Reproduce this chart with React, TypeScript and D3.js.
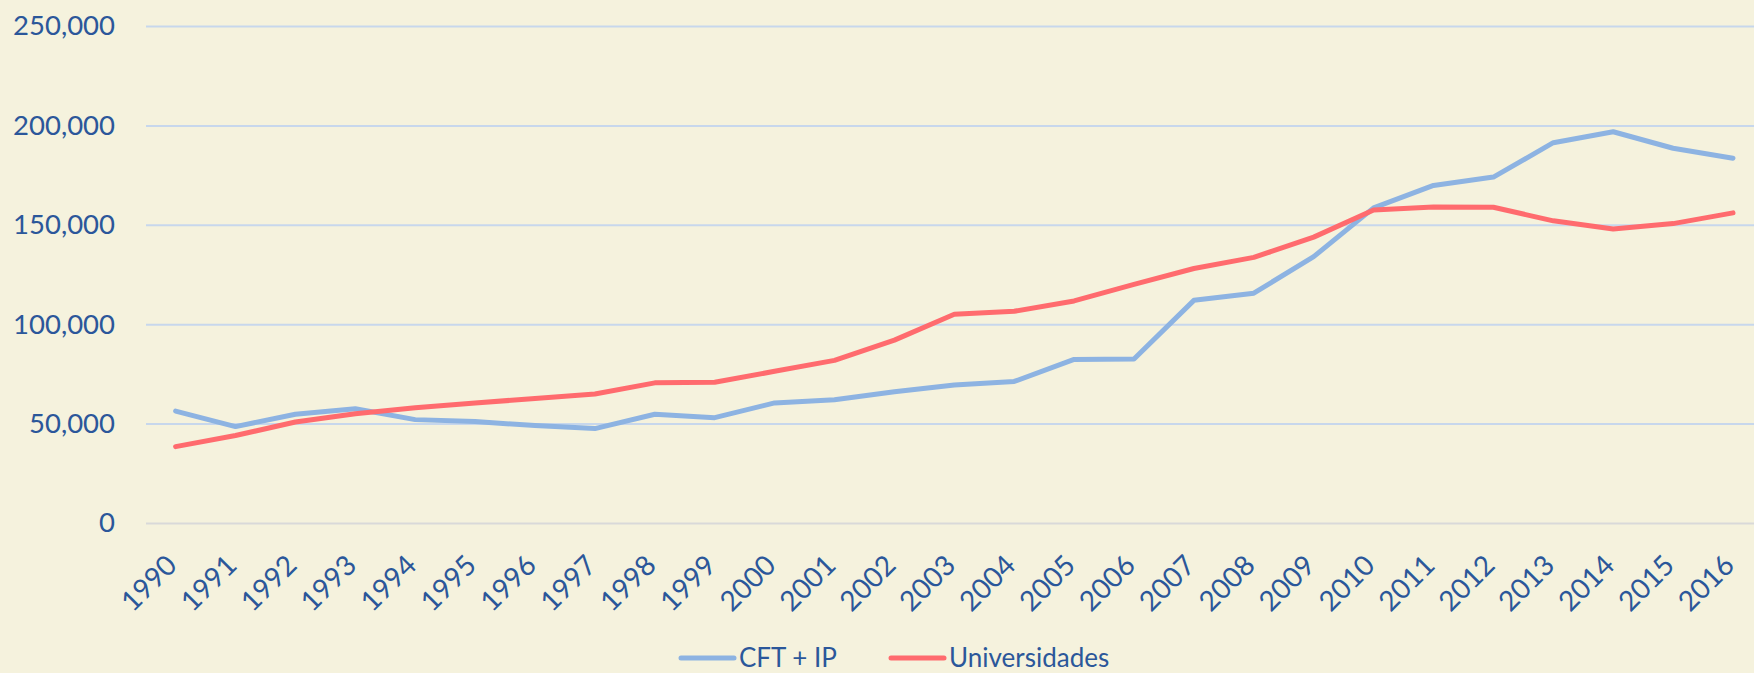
import { useEffect, useRef } from "react";
import * as d3 from "d3";

const years = [
  "1990", "1991", "1992", "1993", "1994", "1995", "1996", "1997", "1998",
  "1999", "2000", "2001", "2002", "2003", "2004", "2005", "2006", "2007",
  "2008", "2009", "2010", "2011", "2012", "2013", "2014", "2015", "2016",
];

// CFT + IP enrolment
const cftIp = [
  56300, 48500, 54700, 57500, 52000, 51000, 49000, 47500, 54700, 53000,
  60400, 62000, 66000, 69400, 71200, 82300, 82500, 112000, 115600, 134000,
  158500, 169800, 174000, 191300, 196800, 188500, 183500,
];

// Universidades enrolment
const universidades = [
  38400, 44000, 50800, 55000, 58000, 60400, 62600, 64900, 70500, 70800,
  76300, 81800, 92000, 105000, 106500, 111700, 120000, 128000, 133600, 143800,
  157400, 159000, 158800, 152000, 147900, 150600, 156000,
];

const yTicks = [0, 50000, 100000, 150000, 200000, 250000];

const seriesNames = ["CFT + IP", "Universidades"];

const W = 1754;
const H = 673;
const FONT = "Lato, 'Noto Sans', sans-serif";
const TEXT = "#2B579A";

const App = () => {
  const ref = useRef<SVGSVGElement>(null);

  useEffect(() => {
    document.body.style.margin = "0";
    const svg = d3.select(ref.current);
    svg.selectAll("*").remove();

    const left = 146;
    const right = W;
    const top = 26;
    const bottom = 523;

    svg.append("rect").attr("width", W).attr("height", H).attr("fill", "#F5F2DD");

    const x = d3.scalePoint().domain(years).range([175.6, 1733]);
    const y = d3.scaleLinear().domain([0, 250000]).range([bottom, top]);

    // gridlines + y labels
    const yAxis = d3
      .axisLeft(y)
      .tickValues(yTicks)
      .tickSize(-(right - left))
      .tickPadding(31)
      .tickFormat((d) => d3.format(",")(d as number));

    const yg = svg.append("g").attr("transform", `translate(${left},0)`).call(yAxis);
    yg.select(".domain").remove();
    yg.selectAll(".tick line")
      .attr("stroke", (d) => ((d as number) === 0 ? "#D9D9D9" : "#C7D7EC"))
      .attr("stroke-width", 2);
    yg.selectAll(".tick text")
      .attr("fill", TEXT)
      .style("font-family", FONT)
      .style("font-size", "27.5px");

    // x labels, rotated
    svg
      .append("g")
      .selectAll("text")
      .data(years)
      .enter()
      .append("text")
      .attr("transform", (d) => `translate(${(x(d) as number) + 3},567) rotate(-45)`)
      .attr("text-anchor", "end")
      .attr("fill", TEXT)
      .style("font-family", FONT)
      .style("font-size", "28px")
      .text((d) => d);

    const line = d3
      .line<number>()
      .x((d, i) => x(years[i]) as number)
      .y((d) => y(d));

    const colors = ["#8DB3E2", "#FF6B6E"];
    [cftIp, universidades].forEach((s, i) => {
      svg
        .append("path")
        .datum(s)
        .attr("d", line)
        .attr("fill", "none")
        .attr("stroke", colors[i])
        .attr("stroke-width", 5)
        .attr("stroke-linejoin", "round")
        .attr("stroke-linecap", "round");
    });

    // legend
    const legendX = [681, 891];
    const legendY = 658;
    seriesNames.forEach((name, i) => {
      const g = svg.append("g").attr("transform", `translate(${legendX[i]},${legendY})`);
      g.append("line")
        .attr("x1", 0)
        .attr("x2", 53)
        .attr("stroke", colors[i])
        .attr("stroke-width", 5)
        .attr("stroke-linecap", "round");
      g.append("text")
        .attr("x", 58)
        .attr("y", 9)
        .attr("fill", TEXT)
        .style("font-family", FONT)
        .style("font-size", "26px")
        .text(name);
    });
  }, []);

  return <svg ref={ref} width={W} height={H} style={{ display: "block" }}></svg>;
};

export default App;
